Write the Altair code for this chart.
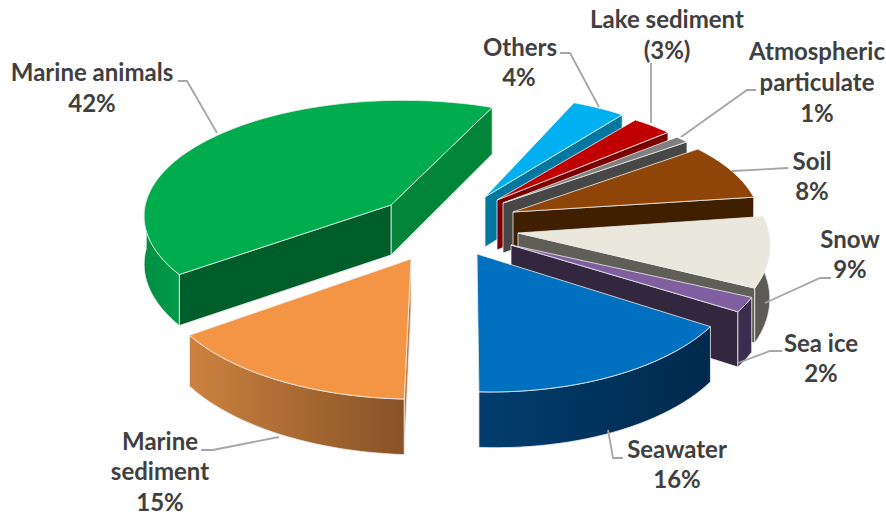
import math
import altair as alt
import pandas as pd

# Share of each source, clockwise from the start of the largest slice
names = ["Marine animals", "Others", "Lake sediment", "Atmospheric particulate", "Soil",
         "Snow", "Sea ice", "Seawater", "Marine sediment"]
shares = [42, 4, 3, 1, 8, 9, 2, 16, 15]
first_angle = 233.6

# Exploded position and shape of each slice: apex x, apex y, radius x, radius y, skew
slice_shape = [
    (391, 205, 258, 115, 0),
    (485, 197, 227, 111, 0),
    (497, 200, 229, 108, 0),
    (503, 203, 233, 105, 0),
    (513, 212, 234, 108, 0),
    (518, 233, 238, 120, 0),
    (511, 245, 242, 114, 0),
    (477, 254, 249, 124, 0),
    (411, 259, 264, 126, -8),
]
top_colors = ["#00AD4E", "#00B0F0", "#C00000", "#7F7F7F", "#8F4507",
              "#EAE8DD", "#7F5FA0", "#0070C0", "#F39545"]
cut_colors = ["#005E2B", "#00779F", "#7A0000", "#474747", "#3F1F00",
              "#5F5F57", "#33273F", None, "#C77F3B"]
# Left and right ends of the rim shading
side_colors = [("#008E42", "#009C4B"), None, None, None, None,
               ("#5C5C54", "#5C5C54"), ("#3B2D4D", "#3B2D4D"),
               ("#013D6E", "#002A4D"), ("#CC823F", "#875226")]
back_cut_color = "#00853B"

# Leader lines between labels and slices
leaders = [
    [(178, 81), (187, 81), (217, 133)],
    [(560, 53), (570, 53), (599, 107)],
    [(651, 63), (651, 123)],
    [(756, 90), (747, 90), (681, 137)],
    [(788, 168), (732, 171)],
    [(831, 278), (820, 278), (765, 303)],
    [(782, 351), (770, 351), (738, 363)],
    [(623, 458), (613, 458), (608, 430)],
    [(201, 450), (213, 450), (279, 437)],
]
label_lines = [
    ("Marine animals", 92, 74), ("42%", 92, 105),
    ("Others", 520, 49), ("4%", 519, 79),
    ("Lake sediment", 667, 21), ("(3%)", 667, 52),
    ("Atmospheric", 817, 53), ("particulate", 817, 84), ("1%", 817, 115),
    ("Soil", 812, 163), ("8%", 812, 193),
    ("Snow", 850, 241), ("9%", 850, 271),
    ("Sea ice", 821, 345), ("2%", 821, 375),
    ("Seawater", 677, 451), ("16%", 677, 481),
    ("Marine", 160, 443), ("sediment", 160, 473), ("15%", 160, 504),
]

TILT_Y, TILT_X, THICKNESS = 0.10, 0.05, 50
W, H = 886, 516
x_scale = alt.X("x:Q", scale=alt.Scale(domain=[0, W], range=[0, W]), axis=None)
y_scale = alt.Y("y:Q", scale=alt.Scale(domain=[0, H], range=[0, H]), axis=None)


def project(shape, deg, lower=False):
    """Screen position of a rim point of a tilted slice, on its top or bottom face."""
    tx, ty, rx, ry, skew = shape
    u, v = math.sin(math.radians(deg)), -math.cos(math.radians(deg))
    s = 1 / (1 - TILT_Y * v - TILT_X * u)
    y = ty + ry * v * s + (THICKNESS * s if lower else 0)
    return tx + (rx * u + skew * v) * s, y


def arc(shape, a0, a1, lower=False):
    n = max(2, int(abs(a1 - a0) / 2) + 1)
    return [project(shape, a0 + (a1 - a0) * i / (n - 1), lower) for i in range(n)]


def polygon(points, fill, stroke="#EFEFEF", width=0.8):
    frame = pd.DataFrame(points + [points[0]], columns=["x", "y"])
    frame["i"] = range(len(frame))
    return alt.Chart(frame).mark_line(fill=fill, stroke=stroke, strokeWidth=width, interpolate="linear").encode(
        x=x_scale, y=y_scale, order="i:Q"
    )


def h_gradient(left, right):
    return alt.Gradient(gradient="linear", x1=0, y1=0, x2=1, y2=0,
                        stops=[alt.GradientStop(color=left, offset=0), alt.GradientStop(color=right, offset=1)])


def cut_face(shape, deg, fill):
    apex = (shape[0], shape[1])
    apex_low = (shape[0], shape[1] + THICKNESS)
    return polygon([apex, project(shape, deg), project(shape, deg, True), apex_low], fill)


layers = []
angle = first_angle
for k, share in enumerate(shares):
    start, end = angle, angle + share * 3.6
    angle = end
    shape = slice_shape[k]
    apex = (shape[0], shape[1])
    # Faces are painted back to front, the top of the slice last
    if k == 0:
        layers.append(cut_face(shape, end, back_cut_color))
        layers.append(cut_face(shape, start, cut_colors[k]))
        lo, hi = start, 272
    elif k == 8:
        layers.append(cut_face(shape, start, cut_colors[k]))
        lo, hi = start, end
    else:
        if cut_colors[k]:
            layers.append(cut_face(shape, end, cut_colors[k]))
        lo, hi = max(start, 88), end
    if side_colors[k] and hi > lo:
        rim = arc(shape, lo, hi)
        under = arc(shape, lo, hi, True)
        left, right = side_colors[k]
        layers.append(polygon(rim + under[::-1], h_gradient(left, right)))
    layers.append(polygon([apex] + arc(shape, start, end), top_colors[k]))

for path in leaders:
    frame = pd.DataFrame(path, columns=["x", "y"])
    frame["i"] = range(len(frame))
    layers.append(alt.Chart(frame).mark_line(stroke="#A6A6A6", strokeWidth=1.8).encode(
        x=x_scale, y=y_scale, order="i:Q"))

text_frame = pd.DataFrame(label_lines, columns=["t", "x", "y"])
layers.append(alt.Chart(text_frame).mark_text(
    font="Lato", fontWeight="bold", fontSize=24, color="#404040", align="center", baseline="middle"
).encode(x=x_scale, y=y_scale, text="t:N"))

chart = alt.layer(*layers).properties(
    width=W, height=H, padding=0, autosize=alt.AutoSizeParams(type="none"), background="white"
).configure_view(stroke=None)

chart.save("out.html", embed_options={"renderer": "svg", "actions": False})
